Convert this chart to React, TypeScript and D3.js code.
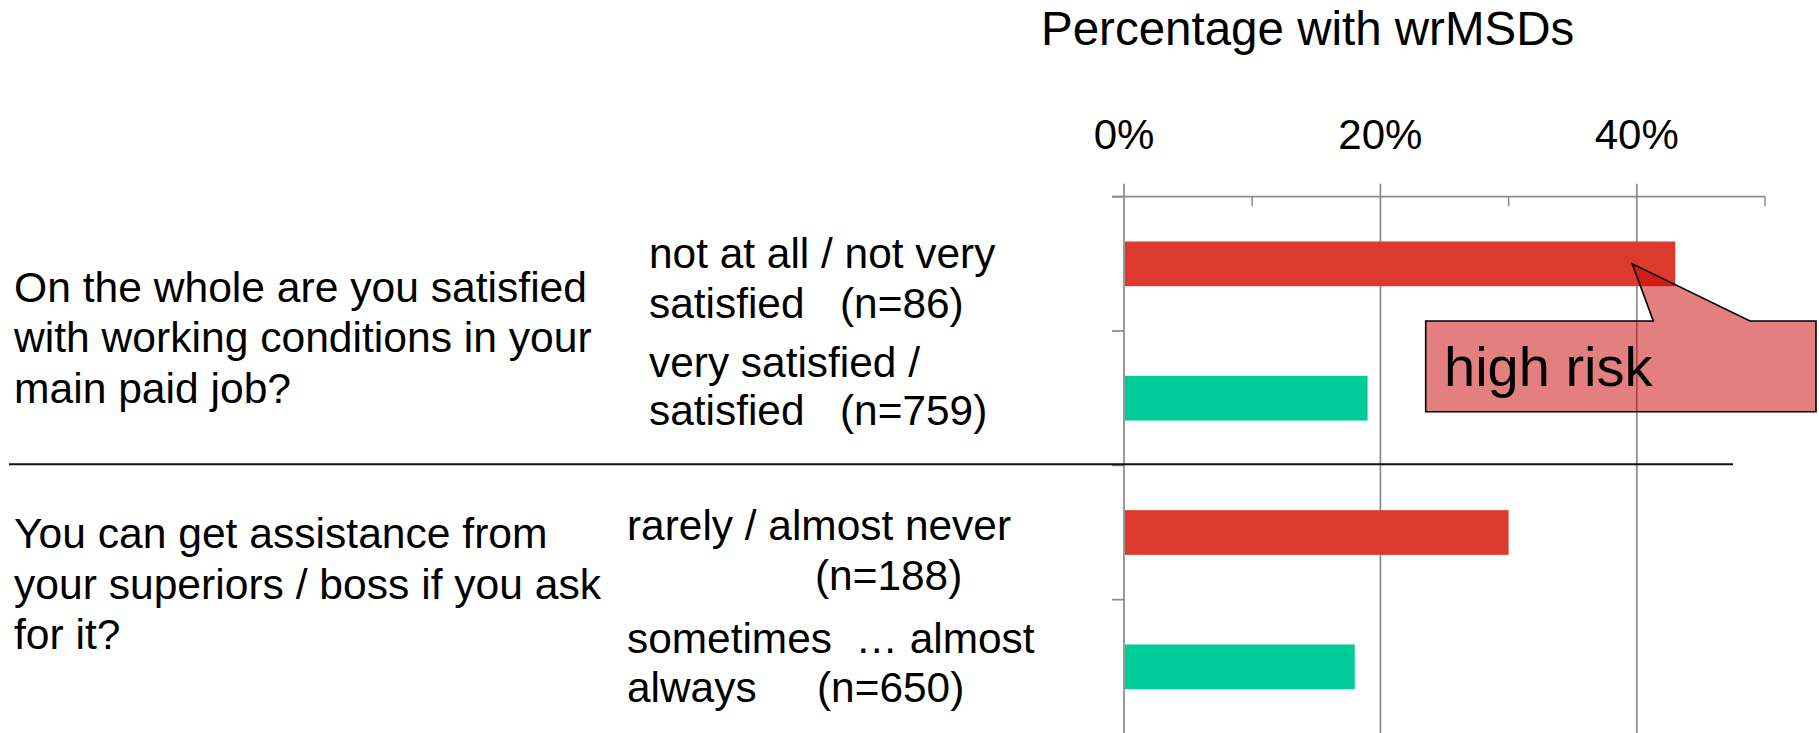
import React from "react";
import * as d3 from "d3";

// ---- data ----
const categories = [
  "not at all / not very satisfied (n=86)",
  "very satisfied / satisfied (n=759)",
  "rarely / almost never (n=188)",
  "sometimes … almost always (n=650)",
];
const values = [43, 19, 30, 18];
const riskGroup = ["high", "low", "high", "low"];
const tickValues = [0, 20, 40];
const minorTickValues = [10, 30, 50];
const tickLabels = ["0%", "20%", "40%"];
const axisTitle = "Percentage with wrMSDs";
const questionLines = [
  ["On the whole are you satisfied", "with working conditions in your", "main paid job?"],
  ["You can get assistance from", "your superiors / boss if you ask", "for it?"],
];
const subLabelParts = [
  [["not at all / not very"], ["satisfied", "(n=86)"]],
  [["very satisfied /"], ["satisfied", "(n=759)"]],
  [["rarely / almost never"], ["", "(n=188)"]],
  [["sometimes  … almost"], ["always", "(n=650)"]],
];
const calloutText = "high risk";

// ---- layout (positions / styles) ----
const W = 1819;
const H = 733;
const FONT = "'Liberation Sans', Arial, Helvetica, sans-serif";
const plot = { left: 1124, right: 1765, top: 196.7, bottom: 734 };
const colors: Record<string, string> = { high: "#DD3A2E", low: "#00CC99" };
const gridColor = "#8c8c8c";

// text layout for the annotation text boxes
const questionLayout = [
  { x: 14, y: 301.7 },
  { x: 14, y: 548.3 },
];
const questionLineGap = 50.5;
const subLayout = [
  { x: 649, y: 268.3, nx: 840, gap: 50 },
  { x: 649, y: 376.7, nx: 840, gap: 48.5 },
  { x: 627, y: 540, nx: 815, gap: 50 },
  { x: 627, y: 653.3, nx: 817, gap: 48.5 },
];
const callout = { x0: 1425.7, x1: 1816, y0: 321, y1: 411.7, b0: 1653.3, b1: 1750 };

export default function App() {
  const x = d3.scaleLinear().domain([0, 50]).range([plot.left, plot.right]);
  const y = d3
    .scaleBand<string>()
    .domain(categories)
    .range([plot.top, plot.bottom])
    .paddingInner(0.667)
    .paddingOuter(0.3335);
  const step = y.step();
  const catTicks = d3.range(categories.length + 1).map((i) => plot.top + i * step);

  const tipX = x(values[0]) - 43;
  const tipY = (y(categories[0]) as number) + y.bandwidth() / 2;
  const calloutPath = `M${callout.x0},${callout.y0} L${callout.b0},${callout.y0} L${tipX},${tipY} L${callout.b1},${callout.y0} L${callout.x1},${callout.y0} L${callout.x1},${callout.y1} L${callout.x0},${callout.y1} Z`;

  return (
    <svg
      width={W}
      height={H}
      style={{ position: "absolute", left: 0, top: 0, display: "block", background: "#fff" }}
      fontFamily={FONT}
    >
      {/* axis title */}
      <text x={1041} y={45} fontSize={47.5} fill="#000">
        {axisTitle}
      </text>

      {/* tick labels */}
      {tickValues.map((t, i) => (
        <text key={t} x={x(t)} y={149.3} fontSize={42} textAnchor="middle" fill="#000">
          {tickLabels[i]}
        </text>
      ))}

      {/* major gridlines */}
      {tickValues.map((t) => (
        <line
          key={"g" + t}
          x1={x(t)}
          x2={x(t)}
          y1={plot.top - 13}
          y2={plot.bottom}
          stroke={gridColor}
          strokeWidth={1.75}
        />
      ))}
      {/* top axis line */}
      <line x1={plot.left - 12} x2={plot.right} y1={plot.top} y2={plot.top} stroke={gridColor} strokeWidth={1.75} />
      {/* minor ticks */}
      {minorTickValues.map((t) => (
        <line key={"m" + t} x1={x(t)} x2={x(t)} y1={plot.top} y2={plot.top + 9.5} stroke={gridColor} strokeWidth={1.5} />
      ))}
      {/* category ticks */}
      {catTicks.map((v, i) => (
        <line key={"c" + i} x1={plot.left - 12} x2={plot.left} y1={v} y2={v} stroke={gridColor} strokeWidth={1.75} />
      ))}

      {/* bars */}
      {categories.map((c, i) => (
        <rect
          key={c}
          x={x(0) + 1}
          y={y(c) as number}
          width={x(values[i]) - x(0) - 1}
          height={y.bandwidth()}
          fill={colors[riskGroup[i]]}
        />
      ))}

      {/* separator */}
      <line x1={9} x2={1733} y1={464.3} y2={464.3} stroke="#111" strokeWidth={2} />

      {/* question text */}
      {questionLines.map((lines, qi) => (
        <text key={"q" + qi} fontSize={42.6} fill="#000">
          {lines.map((l, li) => (
            <tspan key={li} x={questionLayout[qi].x} y={questionLayout[qi].y + li * questionLineGap}>
              {l}
            </tspan>
          ))}
        </text>
      ))}

      {/* sub labels */}
      {subLabelParts.map((parts, si) => {
        const L = subLayout[si];
        return (
          <text key={"s" + si} fontSize={42.4} fill="#000" style={{ whiteSpace: "pre" }}>
            <tspan x={L.x} y={L.y}>
              {parts[0][0]}
            </tspan>
            {parts[1][0] ? (
              <tspan x={L.x} y={L.y + L.gap}>
                {parts[1][0]}
              </tspan>
            ) : null}
            <tspan x={L.nx} y={L.y + L.gap}>
              {parts[1][1]}
            </tspan>
          </text>
        );
      })}

      {/* callout */}
      <path d={calloutPath} fill="rgba(200,0,0,0.5)" stroke="#000" strokeWidth={1.6} strokeLinejoin="miter" />
      <text x={1444} y={385.7} fontSize={56} fill="#000">
        {calloutText}
      </text>
    </svg>
  );
}
